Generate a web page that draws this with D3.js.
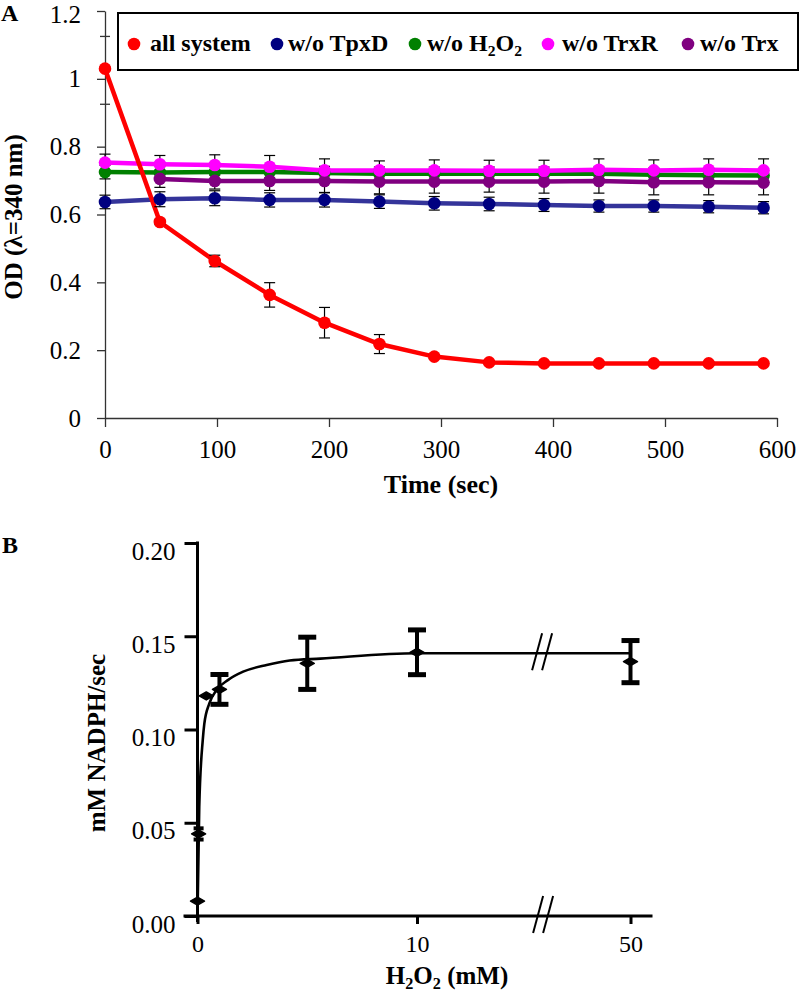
<!DOCTYPE html>
<html><head><meta charset="utf-8">
<script src="https://cdn.jsdelivr.net/npm/d3@7"></script>
<style>
body{margin:0;background:#fff}
svg{display:block}
text{font-family:"Liberation Serif","Times New Roman",serif;fill:#000}
</style>
</head><body><svg id="c" width="800" height="996"></svg>
<script>
// ---------- Panel A data ----------
const timeSec = [0,49,98,147,196,245,294,343,392,441,490,539,588];
const allSystem    = [1.03,0.578,0.463,0.363,0.281,0.218,0.181,0.164,0.161,0.161,0.161,0.161,0.161];
const allSystemErr = [0.005,0.008,0.017,0.036,0.045,0.028,0.006,0.005,0.004,0.004,0.004,0.004,0.004];
const woTpxD    = [0.637,0.645,0.648,0.643,0.643,0.638,0.633,0.631,0.628,0.625,0.625,0.623,0.620];
const woTpxDErr = [0.020,0.022,0.022,0.021,0.021,0.020,0.020,0.020,0.019,0.018,0.018,0.018,0.018];
const woH2O2    = [0.725,0.724,0.725,0.725,0.722,0.720,0.720,0.720,0.720,0.720,0.717,0.716,0.715];
const woH2O2Err = [0.020,0.020,0.020,0.020,0.020,0.020,0.020,0.020,0.020,0.020,0.020,0.020,0.020];
const woTrxR    = [0.753,0.748,0.746,0.741,0.730,0.730,0.730,0.729,0.729,0.732,0.730,0.732,0.730];
const woTrxRErr = [0.025,0.026,0.030,0.033,0.034,0.028,0.031,0.031,0.031,0.032,0.031,0.032,0.034];
const woTrx     = [null,0.705,0.699,0.699,0.699,0.697,0.697,0.697,0.697,0.699,0.695,0.695,0.694];
const woTrxErr  = [null,0.025,0.024,0.028,0.034,0.036,0.034,0.031,0.034,0.036,0.037,0.037,0.036];
const aTicksX = [0,100,200,300,400,500,600];
const aTicksY = [0,0.2,0.4,0.6,0.8,1.0,1.2];
const aMinorTicksY = [1.125,0.925];

// ---------- Panel B data ----------
const h2o2mM  = [0, 0.05, 0.4, 1, 5, 10, 50];
const rate    = [0.008, 0.044, 0.118, 0.1215, 0.1355, 0.1414, 0.1364];
const rateErr = [0, 0.003, 0, 0.008, 0.014, 0.012, 0.0113];
const fitX = [0, 0.08, 0.24, 0.31, 0.54, 0.87, 1.4, 2.08, 3.15, 4.2, 5.6, 10, 50];
const fitY = [0, 0.0586, 0.0944, 0.103, 0.114, 0.1212, 0.1266, 0.131, 0.1346, 0.137, 0.138, 0.1409, 0.1409];
const bTicksX = [0, 10, 50];
const bTicksY = [0, 0.05, 0.10, 0.15, 0.20];
const axisBreakAt = 34;

const seriesA = [
  {name:[["all system",0]], vals:allSystem, err:allSystemErr, line:"#ff0000", dot:"#ff0000"},
  {name:[["w/o TpxD",0]], vals:woTpxD, err:woTpxDErr, line:"#34349a", dot:"#000080"},
  {name:[["w/o H",0],["2",1],["O",0],["2",1]], vals:woH2O2, err:woH2O2Err, line:"#008000", dot:"#008000"},
  {name:[["w/o TrxR",0]], vals:woTrxR, err:woTrxRErr, line:"#ff00ff", dot:"#ff00ff"},
  {name:[["w/o Trx",0]], vals:woTrx, err:woTrxErr, line:"#800080", dot:"#800080"}
];
const drawOrder = [1,2,4,3,0];

const svg = d3.select("#c");

function richText(sel, parts){
  let prevSub = false;
  parts.forEach(([t,sub])=>{
    const ts = sel.append("tspan").text(t);
    if(sub){ ts.attr("font-size","0.65em").attr("dy","0.3em"); }
    else if(prevSub){ ts.attr("dy","-0.195em"); }
    prevSub = !!sub;
  });
}

// ================= Panel A =================
const xA = d3.scaleLinear().domain([0,600]).range([105,777]);
const yA = d3.scaleLinear().domain([0,1.2]).range([418,11]);

const gA = svg.append("g");
const axA = gA.append("g").attr("transform","translate(0,418)")
  .call(d3.axisBottom(xA).tickValues(aTicksX).tickSize(9).tickSizeOuter(0).tickPadding(13).tickFormat(d3.format("d")));
const ayA = gA.append("g").attr("transform","translate(105,0)")
  .call(d3.axisLeft(yA).tickValues(aTicksY).tickSize(8).tickSizeOuter(0).tickPadding(16).tickFormat(d=>String(+d.toFixed(1))));
[axA, ayA].forEach(a=>{
  a.selectAll("path,line").attr("stroke","#333").attr("stroke-width",1.3);
  a.selectAll("text").attr("font-size",25).attr("fill","#000").style("font-family",'"Liberation Serif","Times New Roman",serif');
});
// keep the topmost label fully inside the picture
ayA.selectAll(".tick text").filter(d=>d===1.2).attr("dy","0.44em");
gA.selectAll(".minorA").data(aMinorTicksY).join("line")
  .attr("x1",100).attr("x2",110).attr("y1",d=>yA(d)).attr("y2",d=>yA(d))
  .attr("stroke","#333").attr("stroke-width",1.3);

const lineA = d3.line().defined(d=>d[1]!=null).x(d=>xA(d[0])).y(d=>yA(d[1]));
drawOrder.forEach(i=>{
  const s = seriesA[i];
  gA.append("path").datum(timeSec.map((t,k)=>[t,s.vals[k]]))
    .attr("d",lineA).attr("fill","none").attr("stroke",s.line).attr("stroke-width",4.5)
    .attr("stroke-linejoin","round");
});
drawOrder.forEach(i=>{
  const s = seriesA[i];
  const pts = timeSec.map((t,k)=>({t,v:s.vals[k],e:s.err[k]})).filter(p=>p.v!=null);
  const eg = gA.append("g").attr("stroke","#000").attr("stroke-width",1.2);
  pts.forEach(p=>{
    const x = xA(p.t), y1 = yA(p.v+p.e), y2 = yA(p.v-p.e);
    eg.append("line").attr("x1",x).attr("x2",x).attr("y1",y1).attr("y2",y2);
    eg.append("line").attr("x1",x-5.5).attr("x2",x+5.5).attr("y1",y1).attr("y2",y1);
    eg.append("line").attr("x1",x-5.5).attr("x2",x+5.5).attr("y1",y2).attr("y2",y2);
  });
});
drawOrder.forEach(i=>{
  const s = seriesA[i];
  const pts = timeSec.map((t,k)=>({t,v:s.vals[k]})).filter(p=>p.v!=null);
  gA.append("g").selectAll("circle").data(pts).join("circle")
    .attr("cx",p=>xA(p.t)).attr("cy",p=>yA(p.v)).attr("r",6.3).attr("fill",s.dot);
});

// legend
gA.append("rect").attr("x",118).attr("y",13).attr("width",680).attr("height",57)
  .attr("fill","#fff").attr("stroke","#000").attr("stroke-width",2);
const legDotX = [134,277,415,548,688];
const legTxtX = [150,288,427,562,700];
seriesA.forEach((s,i)=>{
  gA.append("circle").attr("cx",legDotX[i]).attr("cy",44).attr("r",6.3).attr("fill",s.dot);
  const t = gA.append("text").attr("x",legTxtX[i]).attr("y",51).attr("font-size",24).attr("font-weight","bold");
  richText(t, s.name);
});

gA.append("text").attr("x",1).attr("y",21).attr("font-size",24).attr("font-weight","bold").text("A");
gA.append("text").attr("transform","translate(22,217) rotate(-90)").attr("text-anchor","middle")
  .attr("font-size",25).attr("font-weight","bold").text("OD (λ=340 nm)");
gA.append("text").attr("x",441).attr("y",493).attr("text-anchor","middle")
  .attr("font-size",26).attr("font-weight","bold").text("Time (sec)");

// ================= Panel B =================
const xB = d3.scaleLinear().domain([0,10,50]).range([197.5,417,630.5]);
const yB = d3.scaleLinear().domain([0,0.2]).range([916,543]);
const gB = svg.append("g");

const axB = gB.append("g").attr("transform","translate(0,916)")
  .call(d3.axisBottom(xB).tickValues(bTicksX).tickSize(8).tickSizeOuter(0).tickPadding(11).tickFormat(d3.format("d")));
const ayB = gB.append("g").attr("transform","translate(197.5,0)")
  .call(d3.axisLeft(yB).tickValues(bTicksY).tickSize(13).tickSizeOuter(0).tickPadding(9).tickFormat(d3.format(".2f")));
[axB, ayB].forEach(a=>{
  a.select(".domain").remove();
  a.selectAll("line").attr("stroke","#000").attr("stroke-width",3);
  a.selectAll("text").attr("font-size",25).attr("fill","#000").style("font-family",'"Liberation Serif","Times New Roman",serif');
});
axB.selectAll("text").attr("font-size",24);
ayB.selectAll("text").attr("dy","0.64em");
// axis lines
gB.append("line").attr("x1",xB(0)-14).attr("x2",xB(50)+22).attr("y1",yB(0)).attr("y2",yB(0))
  .attr("stroke","#000").attr("stroke-width",3);
gB.append("line").attr("x1",xB(0)).attr("x2",xB(0)).attr("y1",yB(0.2)-1.5).attr("y2",yB(0)+6)
  .attr("stroke","#000").attr("stroke-width",3);

// break marks
function breakMark(cx, cy){
  [-1,9].forEach(dx=>{
    gB.append("line").attr("x1",cx-9+dx).attr("y1",cy+17).attr("x2",cx+1+dx).attr("y2",cy-20)
      .attr("stroke","#000").attr("stroke-width",2);
  });
}
breakMark(xB(axisBreakAt)-2, yB(0));

// fitted curve
const fitLine = d3.line().x(d=>xB(d[0])).y(d=>yB(d[1])).curve(d3.curveMonotoneX);
gB.append("path").datum(fitX.map((x,i)=>[x,fitY[i]])).attr("d",fitLine)
  .attr("fill","none").attr("stroke","#000").attr("stroke-width",2.6);
breakMark(xB(axisBreakAt)-3, yB(fitY[fitY.length-1]));

// error bars
h2o2mM.forEach((c,i)=>{
  const e = rateErr[i]; if(!e) return;
  const x = xB(c), y1 = yB(rate[i]+e), y2 = yB(rate[i]-e);
  const w = e < 0.005 ? 5 : 9;
  const sw = e < 0.005 ? 3 : 4;
  gB.append("line").attr("x1",x).attr("x2",x).attr("y1",y1).attr("y2",y2).attr("stroke","#000").attr("stroke-width",sw);
  gB.append("line").attr("x1",x-w).attr("x2",x+w).attr("y1",y1).attr("y2",y1).attr("stroke","#000").attr("stroke-width",sw+1);
  gB.append("line").attr("x1",x-w).attr("x2",x+w).attr("y1",y2).attr("y2",y2).attr("stroke","#000").attr("stroke-width",sw+1);
});
// markers
gB.selectAll(".mk").data(h2o2mM.map((c,i)=>[c,rate[i]])).join("path")
  .attr("transform",d=>`translate(${xB(d[0])},${yB(d[1])})`)
  .attr("d","M-7,0 L0,-4 L7,0 L0,4 Z").attr("fill","#000").attr("stroke","#000")
  .attr("stroke-width",1.5).attr("stroke-linejoin","round");

gB.append("text").attr("x",2).attr("y",553).attr("font-size",24).attr("font-weight","bold").text("B");
gB.append("text").attr("transform","translate(105,743) rotate(-90)").attr("text-anchor","middle")
  .attr("font-size",25).attr("font-weight","bold").text("mM NADPH/sec");
const bt = gB.append("text").attr("x",447).attr("y",984).attr("text-anchor","middle")
  .attr("font-size",25).attr("font-weight","bold");
richText(bt, [["H",0],["2",1],["O",0],["2",1],[" (mM)",0]]);
</script>
</body></html>
